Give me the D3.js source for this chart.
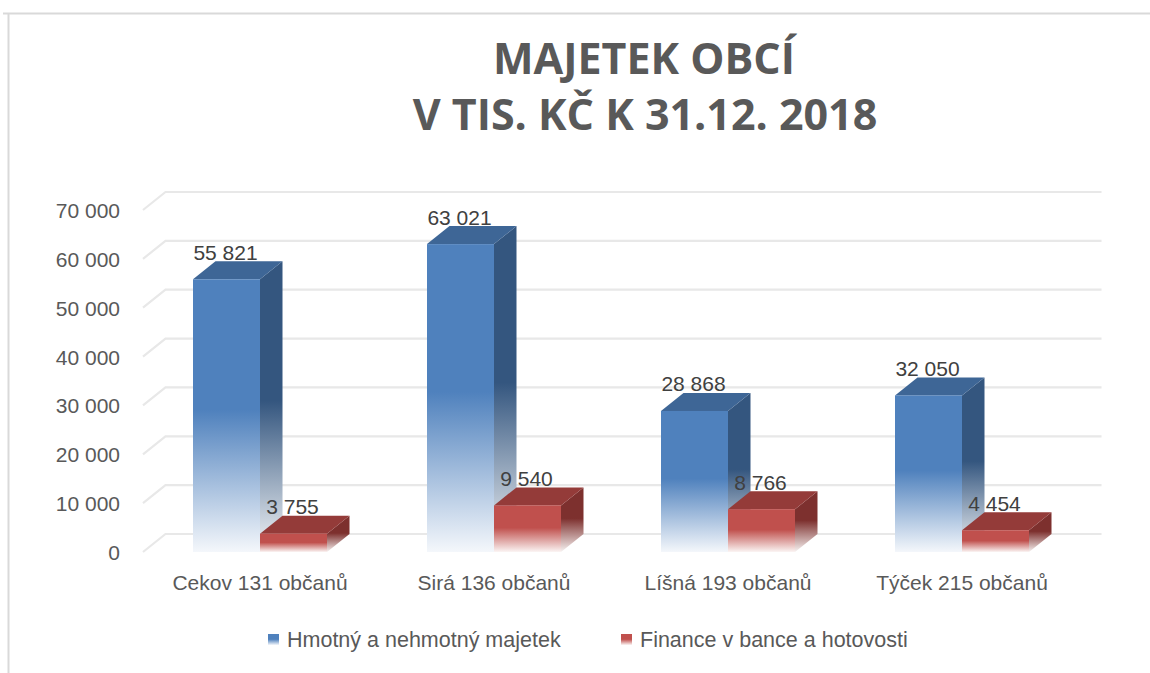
<!DOCTYPE html>
<html>
<head>
<meta charset="utf-8">
<script src="https://cdn.jsdelivr.net/npm/d3@7"></script>
<style>
  html, body { margin: 0; padding: 0; background: #fff; }
  svg { display: block; }
</style>
</head>
<body>
<svg id="chart" width="1150" height="673"></svg>
<script>
// ---- data ----
const categories = ["Cekov 131 občanů", "Sirá 136 občanů", "Líšná 193 občanů", "Týček 215 občanů"];
const seriesNames = ["Hmotný a nehmotný majetek", "Finance v bance a hotovosti"];
const hmotnyValues = [55821, 63021, 28868, 32050];
const financeValues = [3755, 9540, 8766, 4454];
const yTicks = [0, 10000, 20000, 30000, 40000, 50000, 60000, 70000];
const titleLines = ["MAJETEK OBCÍ", "V TIS. KČ K 31.12. 2018"];

// ---- styles ----
const seriesColors = [
  { front: "#4F81BD", top: "#3E6696", side: "#34567F" },
  { front: "#C0504D", top: "#943B39", side: "#7D302E" }
];
const textGray = "#595959";
const labelGray = "#404040";
const fontFamily = "'Liberation Sans', Arial, sans-serif";

const svg = d3.select("#chart");
const W = 1150, H = 673;

// frame
svg.append("line").attr("x1", 3).attr("x2", W).attr("y1", 13.5).attr("y2", 13.5)
  .attr("stroke", "#D9D9D9").attr("stroke-width", 2);
svg.append("line").attr("x1", 8.5).attr("x2", 8.5).attr("y1", 13).attr("y2", H)
  .attr("stroke", "#D9D9D9").attr("stroke-width", 2);

// title
const title = svg.append("text")
  .attr("text-anchor", "middle")
  .attr("font-family", "'Open Sans', sans-serif")
  .attr("font-weight", "bold")
  .attr("font-size", 43)
  .attr("fill", textGray);
title.append("tspan").attr("x", 644).attr("y", 74).text(titleLines[0]);
title.append("tspan").attr("x", 645).attr("y", 130).text(titleLines[1]);

// ---- scales ----
const depthX = 22.5, depthY = -18;
const y = d3.scaleLinear().domain([0, 70000]).range([552, 210]);
const x0 = d3.scaleBand().domain(categories).range([143, 1079]).padding(0);
const barW = 67;
const x1 = d3.scaleBand().domain(seriesNames)
  .range([x0.bandwidth() / 2 - barW, x0.bandwidth() / 2 + barW]).padding(0);

const fmt = d3.formatLocale({ decimal: ",", thousands: " ", grouping: [3], currency: ["", " Kč"] }).format(",d");

// gradients
const defs = svg.append("defs");
function makeGrad(id, color) {
  const g = defs.append("linearGradient").attr("id", id)
    .attr("x1", 0).attr("y1", 0).attr("x2", 0).attr("y2", 1);
  g.append("stop").attr("offset", "0%").attr("stop-color", color);
  g.append("stop").attr("offset", "48%").attr("stop-color", color);
  g.append("stop").attr("offset", "100%").attr("stop-color", d3.interpolateRgb(color, "#ffffff")(0.94));
}
seriesColors.forEach((c, i) => {
  makeGrad("front" + i, c.front);
  makeGrad("side" + i, c.side);
});

// gridlines (back wall + floor diagonal)
const grid = svg.append("g");
yTicks.forEach(t => {
  const yf = y(t);
  grid.append("path")
    .attr("d", `M143,${yf} L${143 + depthX},${yf + depthY} L${1079 + depthX},${yf + depthY}`)
    .attr("fill", "none").attr("stroke", "#E8E8E8").attr("stroke-width", 2.2);
});

// y axis labels
const yAxis = d3.axisLeft(y).tickValues(yTicks).tickSize(0).tickPadding(0).tickFormat(fmt);
const yg = svg.append("g").attr("transform", "translate(120,0)").call(yAxis);
yg.select(".domain").remove();
yg.selectAll("text")
  .attr("font-family", fontFamily).attr("font-size", 21).attr("fill", textGray)
  .attr("dy", "0.36em");

// x axis labels
const xAxis = d3.axisBottom(x0).tickSize(0).tickPadding(0);
const xg = svg.append("g").attr("transform", "translate(0,574)").call(xAxis);
xg.select(".domain").remove();
xg.selectAll("text")
  .attr("font-family", fontFamily).attr("font-size", 21).attr("fill", textGray)
  .attr("dy", "0.76em");

// bars
const seriesData = [hmotnyValues, financeValues];
const barsG = svg.append("g");
categories.forEach((cat, ci) => {
  seriesNames.forEach((s, si) => {
    const v = seriesData[si][ci];
    const xl = x0(cat) + x1(s);
    const xr = xl + x1.bandwidth();
    const yt = y(v), yb = y(0);
    const c = seriesColors[si];
    const g = barsG.append("g");
    // side face
    g.append("path")
      .attr("d", `M${xr},${yt} L${xr + depthX},${yt + depthY} L${xr + depthX},${yb + depthY} L${xr},${yb} Z`)
      .attr("fill", `url(#side${si})`);
    // top face
    g.append("path")
      .attr("d", `M${xl},${yt} L${xl + depthX},${yt + depthY} L${xr + depthX},${yt + depthY} L${xr},${yt} Z`)
      .attr("fill", c.top);
    // front face
    g.append("rect")
      .attr("x", xl).attr("y", yt).attr("width", xr - xl).attr("height", yb - yt)
      .attr("fill", `url(#front${si})`);
  });
});

// data labels
categories.forEach((cat, ci) => {
  seriesNames.forEach((s, si) => {
    const v = seriesData[si][ci];
    const xc = x0(cat) + x1(s) + x1.bandwidth() / 2 - 1;
    svg.append("text")
      .attr("x", xc).attr("y", y(v) + depthY - 1.5)
      .attr("text-anchor", "middle")
      .attr("font-family", fontFamily).attr("font-size", 21)
      .attr("fill", labelGray)
      .text(fmt(v));
  });
});

// legend
const legendItems = [
  { name: seriesNames[0], sx: 268, tx: 287 },
  { name: seriesNames[1], sx: 621, tx: 640 }
];
legendItems.forEach((d, i) => {
  svg.append("rect").attr("x", d.sx).attr("y", 634).attr("width", 11).attr("height", 11)
    .attr("fill", `url(#front${i})`);
  svg.append("text").attr("x", d.tx).attr("y", 647)
    .attr("font-family", fontFamily).attr("font-size", 21.5).attr("fill", textGray)
    .text(d.name);
});
</script>
</body>
</html>
